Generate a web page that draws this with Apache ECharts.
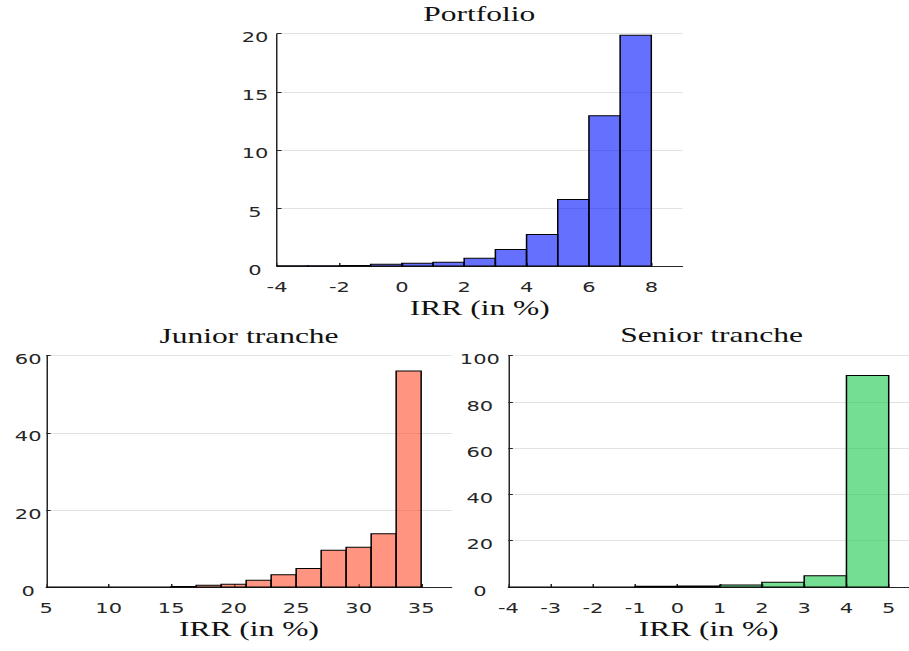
<!DOCTYPE html>
<html>
<head>
<meta charset="utf-8">
<script src="https://cdn.jsdelivr.net/npm/echarts@6/dist/echarts.min.js"></script>
<style>
  html, body { margin: 0; padding: 0; background: #fff; overflow: hidden; }
  #wrap { width: 909px; height: 651px; overflow: hidden; position: relative; }
  /* the figure is laid out at 606px and stretched 1.5x horizontally */
  #chart { width: 606px; height: 651px; transform: scaleX(1.5); transform-origin: 0 0; }
</style>
</head>
<body>
<div id="wrap"><div id="chart"></div></div>
<script>
// Histogram bin edges and heights (IRR in %)
const portfolioEdges = [-4, -3, -2, -1, 0, 1, 2, 3, 4, 5, 6, 7, 8];
const portfolioCounts = [0.02, 0.03, 0.05, 0.14, 0.23, 0.32, 0.66, 1.43, 2.72, 5.72, 12.93, 19.86];

const juniorEdges = [5, 7, 9, 11, 13, 15, 17, 19, 21, 23, 25, 27, 29, 31, 33, 35];
const juniorCounts = [0, 0, 0, 0, 0, 0.1, 0.43, 0.69, 1.72, 3.19, 4.83, 9.56, 10.3, 13.8, 56.0];

const seniorEdges = [-4, -3, -2, -1, 0, 1, 2, 3, 4, 5];
const seniorCounts = [0, 0, 0, 0.3, 0.45, 0.85, 2.1, 4.9, 91.4];

// Tick labels
const portfolioTicks = [-4, -2, 0, 2, 4, 6, 8];
const juniorTicks = [5, 10, 15, 20, 25, 30, 35];
const seniorTicks = [-4, -3, -2, -1, 0, 1, 2, 3, 4, 5];

const titles = ['Portfolio', 'Junior tranche', 'Senior tranche'];
const axisTitle = 'IRR (in %)';

function bins(edges, counts) {
  return counts.map((c, i) => [edges[i], edges[i + 1], c]);
}

const axisColor = '#262626';
const serif = 'Liberation Serif';
const sans = 'DejaVu Sans';

const grids = [
  { left: 184.7, top: 33.7, width: 270.3, height: 232.3 },
  { left: 30.8, top: 355.7, width: 270.3, height: 231.3 },
  { left: 338.9, top: 355.7, width: 270.3, height: 231.3 }
];

function xAxisCfg(idx, min, max, ticks) {
  return {
    gridIndex: idx, type: 'value', min: min, max: max,
    name: axisTitle, nameLocation: 'middle', nameGap: 31,
    nameTextStyle: { fontFamily: serif, fontSize: 21, color: '#111' },
    axisLine: { show: true, onZero: false, lineStyle: { color: axisColor, width: 1 } },
    axisTick: { show: true, inside: true, length: 3, customValues: ticks, lineStyle: { color: axisColor } },
    axisLabel: { customValues: ticks, margin: 14, fontFamily: sans, fontSize: 14, color: axisColor },
    splitLine: { show: false }
  };
}

function yAxisCfg(idx, max, interval, labelOffset) {
  return {
    gridIndex: idx, type: 'value', min: 0, max: max, interval: interval,
    axisLine: { show: true, onZero: false, lineStyle: { color: axisColor, width: 1 } },
    axisTick: { show: true, inside: true, length: 3, lineStyle: { color: axisColor } },
    axisLabel: {
      margin: labelOffset, align: 'center', verticalAlign: 'top', lineHeight: 7,
      fontFamily: sans, fontSize: 14, color: axisColor
    },
    splitLine: { show: true, lineStyle: { color: '#e2e2e2', width: 1 } }
  };
}

function histSeries(idx, data, fill) {
  return {
    type: 'custom', xAxisIndex: idx, yAxisIndex: idx,
    data: data,
    encode: { x: [0, 1], y: 2 },
    renderItem: function (params, api) {
      const p0 = api.coord([api.value(0), api.value(2)]);
      const p1 = api.coord([api.value(1), 0]);
      return {
        type: 'rect',
        shape: { x: p0[0], y: p0[1], width: p1[0] - p0[0], height: p1[1] - p0[1] },
        style: { fill: fill, stroke: '#000', lineWidth: 1 }
      };
    }
  };
}

function titleCfg(text, cx, top) {
  return {
    text: text, left: cx, top: top, textAlign: 'center', padding: 0,
    textStyle: { fontFamily: serif, fontSize: 21, fontWeight: 'normal', color: '#111' }
  };
}

const chart = echarts.init(document.getElementById('chart'), null, { renderer: 'svg' });
chart.setOption({
  animation: false,
  backgroundColor: '#fff',
  title: [
    titleCfg(titles[0], 319.5, 3),
    titleCfg(titles[1], 166, 325),
    titleCfg(titles[2], 474.4, 324)
  ],
  grid: grids,
  xAxis: [
    xAxisCfg(0, -4, 9, portfolioTicks),
    xAxisCfg(1, 5, 37.44, juniorTicks),
    xAxisCfg(2, -4, 5.48, seniorTicks)
  ],
  yAxis: [
    yAxisCfg(0, 20, 5, 14.7),
    yAxisCfg(1, 60, 20, 12),
    yAxisCfg(2, 100, 20, 19)
  ],
  series: [
    histSeries(0, bins(portfolioEdges, portfolioCounts), 'rgba(0,17,255,0.6)'),
    histSeries(1, bins(juniorEdges, juniorCounts), 'rgba(255,77,43,0.6)'),
    histSeries(2, bins(seniorEdges, seniorCounts), 'rgba(23,200,73,0.6)')
  ]
});
</script>
</body>
</html>
